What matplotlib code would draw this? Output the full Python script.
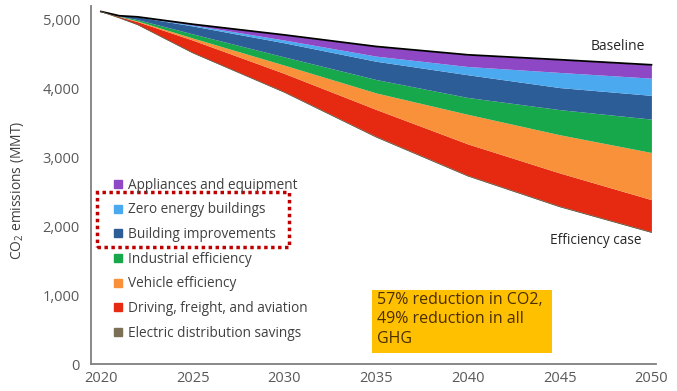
import matplotlib.pyplot as plt
import numpy as np
from matplotlib.lines import Line2D
from matplotlib.patches import Rectangle

plt.rcParams['font.family'] = ['Open Sans', 'DejaVu Sans']
plt.rcParams['mathtext.fontset'] = 'custom'
plt.rcParams['mathtext.rm'] = 'Open Sans'
plt.rcParams['mathtext.default'] = 'regular'

# values (MMT CO2)
years = [2020, 2021, 2022, 2025, 2030, 2035, 2040, 2045, 2050]
baseline = [5120, 5058, 5042, 4935, 4780, 4612, 4491, 4420, 4346]
appliances = [0, 0, 0, 10, 75, 140, 170, 185, 194]
zero_energy = [0, 0, 0, 15, 40, 75, 120, 220, 250]
building = [0, 5, 40, 115, 205, 265, 330, 320, 345]
industrial = [0, 5, 20, 60, 120, 195, 245, 365, 485]
vehicle = [0, 3, 10, 30, 120, 240, 430, 555, 685]
driving = [0, 15, 40, 180, 265, 390, 455, 480, 465]
electric = [0, 2, 3, 5, 8, 10, 10, 10, 10]

labels = ["Appliances and equipment", "Zero energy buildings", "Building improvements",
          "Industrial efficiency", "Vehicle efficiency", "Driving, freight, and aviation",
          "Electric distribution savings"]
colors = ['#8e48c6', '#4aa9ef', '#2c5d97', '#18a84c', '#f8913a', '#e62a12', '#7b7055']

# stacked from the bottom (efficiency case) up to the baseline
layers = [electric, driving, vehicle, industrial, building, zero_energy, appliances]
layer_colors = colors[::-1]

base = np.array(baseline, dtype=float)
efficiency = base - np.sum(np.array(layers, dtype=float), axis=0)

fig = plt.figure(figsize=(6.77, 3.91), dpi=100)
ax = fig.add_axes([91 / 677, 27 / 391, 565 / 677, 358 / 391])

lower = efficiency.copy()
for vals, c in zip(layers, layer_colors):
    upper = lower + np.array(vals, dtype=float)
    ax.fill_between(years, lower, upper, color=c, linewidth=0)
    lower = upper
ax.plot(years, baseline, color='black', lw=1.3)
ax.plot(years, efficiency, color='#6b5a45', lw=0.6)

ax.set_xlim(2019.46, 2050.25)
ax.set_ylim(0, 5200)
ax.set_xticks([2020, 2025, 2030, 2035, 2040, 2045, 2050])
ax.set_yticks([0, 1000, 2000, 3000, 4000, 5000])
ax.set_yticklabels(['0', '1,000', '2,000', '3,000', '4,000', '5,000'])
for s in ['top', 'right']:
    ax.spines[s].set_visible(False)
for s in ['left', 'bottom']:
    ax.spines[s].set_color('#7f7f7f')
    ax.spines[s].set_linewidth(1.3)
ax.tick_params(axis='both', length=0, labelsize=10.5, colors='#595959', pad=5)
ax.tick_params(axis='y', pad=8)

fig.text(18 / 677, 1 - 190 / 391, 'CO$_2$ emissions (MMT)', rotation=90,
         ha='center', va='center', fontsize=10, color='#404040')

ax.text(2048.15, 4607, 'Baseline', ha='center', va='center', fontsize=10, color='#262626')
ax.text(2046.95, 1788, 'Efficiency case', ha='center', va='center', fontsize=9.8, color='#262626')

handles = [Line2D([], [], marker='s', linestyle='none', markersize=6, color=c) for c in colors]
leg = ax.legend(handles, labels, loc='upper left', bbox_to_anchor=(107 / 677, 1 - 171 / 391),
                bbox_transform=fig.transFigure, frameon=False, fontsize=9.8,
                handlelength=0.6, handletextpad=0.45, labelspacing=0.71, borderpad=0)
for t in leg.get_texts():
    t.set_color('#404040')

# dotted highlight around the building entries
ax.add_patch(Rectangle((2019.78, 1700), 10.45, 800, fill=False, edgecolor='#c00000',
                       linestyle=(0, (1, 1)), linewidth=2.5, clip_on=False))

# callout box
ax.add_patch(Rectangle((2034.8, 160), 9.8, 915, facecolor='#ffc000', edgecolor='none'))
ax.text(2035.05, 1050, '57% reduction in CO2,\n49% reduction in all\nGHG', ha='left', va='top',
        fontsize=11.5, color='#4a2e00', linespacing=1.3)

fig.savefig('out.png', dpi=100)
